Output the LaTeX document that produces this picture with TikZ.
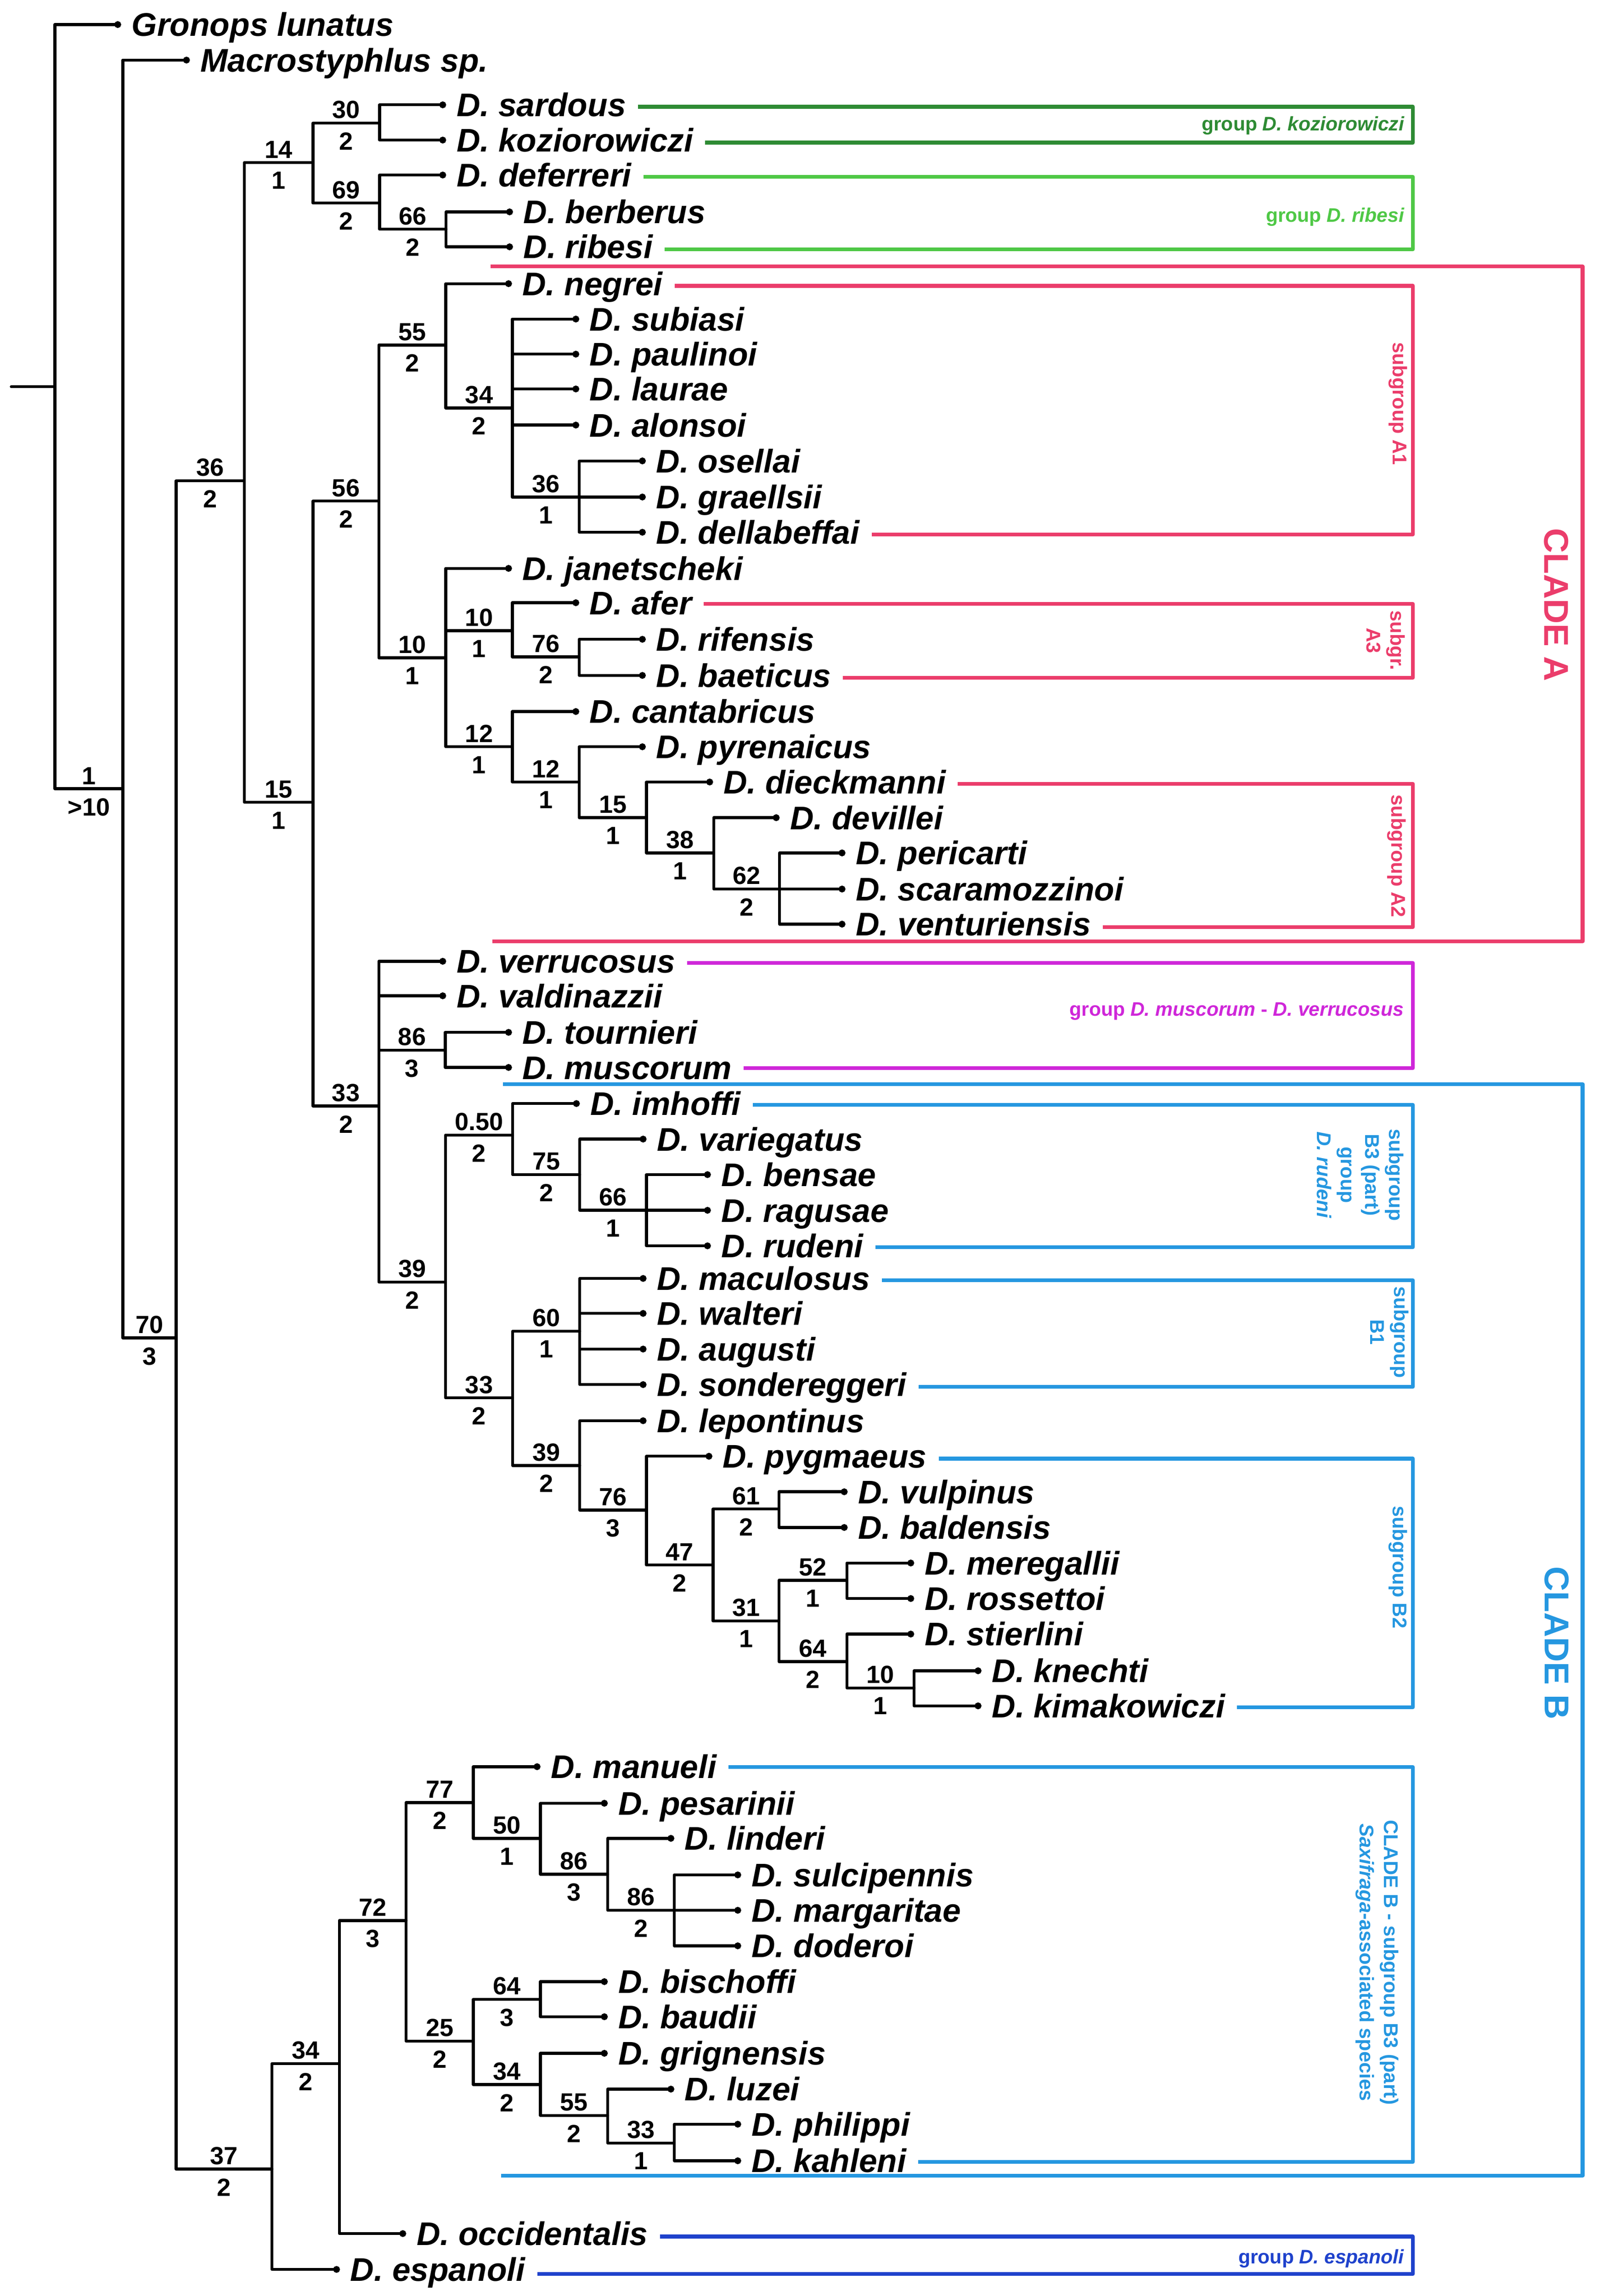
\documentclass[tikz,border=0pt]{standalone}
\usepackage{fontspec}
\setmainfont{Liberation Sans}
\usetikzlibrary{arrows.meta}
\definecolor{kozgreen}{HTML}{2E8B34}
\definecolor{ribgreen}{HTML}{4FC846}
\definecolor{cladea}{HTML}{EB3D6B}
\definecolor{muscmag}{HTML}{CF27D9}
\definecolor{cladeb}{HTML}{2597E0}
\definecolor{espblue}{HTML}{1F42CC}
\begin{document}
\begin{tikzpicture}[x=1pt,y=-1pt,line join=round,line cap=round,
	branch/.style={line width=2pt},
	leafbranch/.style={line width=2pt,-{Circle[length=4.6pt,width=4.6pt]}},
	taxon/.style={anchor=base west,inner sep=0pt,font=\fontsize{22.4}{26}\selectfont\bfseries\itshape},
	supp/.style={inner sep=0pt,font=\fontsize{17}{20}\selectfont\bfseries},
	grpline/.style={line width=2.6pt,line cap=butt},
	grplabel/.style={anchor=east,inner sep=0pt,font=\fontsize{13.4}{16}\selectfont\bfseries},
	sublabel/.style={rotate=-90,inner sep=0pt,align=center,font=\fontsize{13.6}{16.5}\selectfont\bfseries},
	cladelabel/.style={rotate=-90,inner sep=0pt,font=\fontsize{23.5}{28}\selectfont\bfseries}]
	\useasboundingbox (0,0) rectangle (1100,1570.2);
	% terminal taxa: name/tip x/y/label
	\foreach \n/\x/\y/\t in {
		gronops/82.8/16.8/Gronops lunatus, macro/129.8/41.1/Macrostyphlus sp.,
		sardous/305/71.7/D. sardous, koziorowiczi/305/95.8/D. koziorowiczi,
		deferreri/305/119.7/D. deferreri, berberus/350.7/144.9/D. berberus,
		ribesi/350.7/168.8/D. ribesi, negrei/350/194/D. negrei,
		subiasi/396/218.2/D. subiasi, paulinoi/396/242.2/D. paulinoi,
		laurae/396/266/D. laurae, alonsoi/396/290.7/D. alonsoi,
		osellai/441.5/315.2/D. osellai, graellsii/441.5/339.9/D. graellsii,
		dellabeffai/441.5/364/D. dellabeffai, janetscheki/350/388.7/D. janetscheki,
		afer/396/412.2/D. afer, rifensis/441.5/437.2/D. rifensis,
		baeticus/441.5/461.9/D. baeticus, cantabricus/396/486.6/D. cantabricus,
		pyrenaicus/441.5/510.7/D. pyrenaicus, dieckmanni/487.5/534.8/D. dieckmanni,
		devillei/533/559.2/D. devillei, pericarti/578/583.3/D. pericarti,
		scaramozzinoi/578/608/D. scaramozzinoi, venturiensis/578/632/D. venturiensis,
		verrucosus/305/657.4/D. verrucosus, valdinazzii/305/681/D. valdinazzii,
		tournieri/350/706/D. tournieri, muscorum/350/730/D. muscorum,
		imhoffi/396.4/754.7/D. imhoffi, variegatus/442/779/D. variegatus,
		bensae/486/803.3/D. bensae, ragusae/486/827.7/D. ragusae,
		rudeni/486/852/D. rudeni, maculosus/442/874.3/D. maculosus,
		walteri/442/898.2/D. walteri, augusti/442/922.6/D. augusti,
		sondereggeri/442/946.9/D. sondereggeri, lepontinus/442/971.6/D. lepontinus,
		pygmaeus/487/995.9/D. pygmaeus, vulpinus/579.5/1020.2/D. vulpinus,
		baldensis/579.5/1044.6/D. baldensis, meregallii/625/1068.9/D. meregallii,
		rossettoi/625/1093.2/D. rossettoi, stierlini/625/1117.5/D. stierlini,
		knechti/671/1142.6/D. knechti, kimakowiczi/671/1166.6/D. kimakowiczi,
		manueli/369.5/1208.2/D. manueli, pesarinii/415.5/1233.2/D. pesarinii,
		linderi/461/1257.2/D. linderi, sulcipennis/506.7/1282.2/D. sulcipennis,
		margaritae/506.7/1306.4/D. margaritae, doderoi/506.7/1330.7/D. doderoi,
		bischoffi/415.5/1355.2/D. bischoffi, baudii/415.5/1379.2/D. baudii,
		grignensis/415.5/1404.2/D. grignensis, luzei/461/1428.7/D. luzei,
		philippi/506.7/1452.7/D. philippi, kahleni/506.7/1477.7/D. kahleni,
		occidentalis/277.7/1527.5/D. occidentalis, espanoli/232.4/1552/D. espanoli}{
		\coordinate (\n) at (\x,\y);
		\node[taxon] (l\n) at (\x+7,\y+8) {\t};
	}
	% internal nodes
	\foreach \n/\x/\y in {root/37.5/264.5, n1/84/539.4, n70/120.4/915, n36/167/328.8,
		n14/214/111.1, n30/259.5/84.2, n69/259.5/138.9, n66/305/156.8,
		n15/214/548.7, n56/259/342.7, n55/304.8/236, n34a/350.3/279, n36b/396/340,
		n10a/304.8/449.9, n10b/350.3/431.3, n76a/396/449.2, n12a/350.3/510.7,
		n12b/396/534.8, n15b/442/559.2, n38/488/583.3, n62/533/608,
		n33a/259/756.4, n86a/304.4/718.2, n39a/304.6/876.7, n050/350.5/776.2,
		n75/396.4/803.3, n66b/442/827.7, n33b/350.5/956, n60/396.4/910.4,
		n39b/396.4/1002.2, n76b/442/1032.7, n47/487.5/1070.3, n61/532.6/1032,
		n31/532.6/1108.5, n52/579/1080.7, n64a/579/1136.3, n10c/625/1154.4,
		n37/186/1483.4, n34b/232/1411.2, n72/277.7/1313.4, n77/323.6/1232.7,
		n50/369.5/1257.2, n86b/415.5/1281.7, n86c/461/1306.4, n25/323.6/1395.9,
		n64b/369.5/1367.3, n34c/369.5/1425.6, n55b/415.5/1446.7, n33c/461/1465.6}
		\coordinate (\n) at (\x,\y);
	\coordinate (stem) at (7.7,264.5);
	\draw[branch] (stem) -- (root);
	% branches with support values
	\foreach \p/\c/\a/\b in {root/n1/1/{>10}, n1/n70/70/3, n70/n36/36/2, n70/n37/37/2,
		n36/n14/14/1, n36/n15/15/1, n14/n30/30/2, n14/n69/69/2, n69/n66/66/2,
		n15/n56/56/2, n15/n33a/33/2, n56/n55/55/2, n56/n10a/10/1, n55/n34a/34/2,
		n34a/n36b/36/1, n10a/n10b/10/1, n10a/n12a/12/1, n10b/n76a/76/2,
		n12a/n12b/12/1, n12b/n15b/15/1, n15b/n38/38/1, n38/n62/62/2,
		n33a/n86a/86/3, n33a/n39a/39/2, n39a/n050/0.50/2, n39a/n33b/33/2,
		n050/n75/75/2, n75/n66b/66/1, n33b/n60/60/1, n33b/n39b/39/2,
		n39b/n76b/76/3, n76b/n47/47/2, n47/n61/61/2, n47/n31/31/1,
		n31/n52/52/1, n31/n64a/64/2, n64a/n10c/10/1, n37/n34b/34/2,
		n34b/n72/72/3, n72/n77/77/2, n72/n25/25/2, n77/n50/50/1,
		n50/n86b/86/3, n86b/n86c/86/2, n25/n64b/64/3, n25/n34c/34/2,
		n34c/n55b/55/2, n55b/n33c/33/1}
		\draw[branch] (\p) |- node[supp,pos=.75,above=2pt] {\a} node[supp,pos=.75,below=5.5pt] {\b} (\c);
	% terminal branches
	\foreach \p/\c in {root/gronops, n1/macro, n30/sardous, n30/koziorowiczi,
		n69/deferreri, n66/berberus, n66/ribesi, n55/negrei, n34a/subiasi,
		n34a/paulinoi, n34a/laurae, n34a/alonsoi, n36b/osellai, n36b/graellsii,
		n36b/dellabeffai, n10a/janetscheki, n10b/afer, n76a/rifensis, n76a/baeticus,
		n12a/cantabricus, n12b/pyrenaicus, n15b/dieckmanni, n38/devillei,
		n62/pericarti, n62/scaramozzinoi, n62/venturiensis, n33a/verrucosus,
		n33a/valdinazzii, n86a/tournieri, n86a/muscorum, n050/imhoffi,
		n75/variegatus, n66b/bensae, n66b/ragusae, n66b/rudeni, n60/maculosus,
		n60/walteri, n60/augusti, n60/sondereggeri, n39b/lepontinus,
		n76b/pygmaeus, n61/vulpinus, n61/baldensis, n52/meregallii,
		n52/rossettoi, n64a/stierlini, n10c/knechti, n10c/kimakowiczi,
		n77/manueli, n50/pesarinii, n86b/linderi, n86c/sulcipennis,
		n86c/margaritae, n86c/doderoi, n64b/bischoffi, n64b/baudii,
		n34c/grignensis, n55b/luzei, n33c/philippi, n33c/kahleni,
		n34b/occidentalis, n37/espanoli}
		\draw[leafbranch] (\p) |- (\c);
	% group brackets
	\foreach \g/\a/\b/\ya/\yb/\c in {koz/sardous/koziorowiczi/73/97.5/kozgreen,
		rib/deferreri/ribesi/121/170.5/ribgreen,
		aone/negrei/dellabeffai/195.5/365.5/cladea,
		athree/afer/baeticus/413/463.5/cladea,
		atwo/dieckmanni/venturiensis/536/634/cladea,
		musc/verrucosus/muscorum/658.5/730.5/muscmag,
		bthree/imhoffi/rudeni/755.5/853/cladeb,
		bone/maculosus/sondereggeri/875.5/948.5/cladeb,
		btwo/pygmaeus/kimakowiczi/997.5/1167.5/cladeb,
		sax/manueli/kahleni/1208.5/1478.5/cladeb,
		esp/occidentalis/espanoli/1529.5/1555/espblue}{
		\coordinate (t\g) at (966,\ya);
		\coordinate (b\g) at (966,\yb);
		\draw[grpline,\c] ([xshift=8pt]l\a.east |- t\g) -- (t\g) -- (b\g) -- ([xshift=8pt]l\b.east |- b\g);
	}
	\path (335.5,182.2) coordinate (clA1) (1082,182.2) coordinate (clA2)
		(1082,643.8) coordinate (clA3) (336.5,643.8) coordinate (clA4)
		(344,741.4) coordinate (clB1) (1082,741.4) coordinate (clB2)
		(1082,1488) coordinate (clB3) (342.7,1488) coordinate (clB4);
	\draw[grpline,cladea] (clA1) -- (clA2) -- (clA3) -- (clA4);
	\draw[grpline,cladeb] (clB1) -- (clB2) -- (clB3) -- (clB4);
	% group labels
	\node[grplabel,kozgreen] (gkoz) at (960.5,86) {group \textit{D. koziorowiczi}};
	\node[grplabel,ribgreen] (grib) at (960.5,148.5) {group \textit{D. ribesi}};
	\node[grplabel,muscmag] (gmusc) at (960,691.5) {group \textit{D. muscorum} - \textit{D. verrucosus}};
	\node[grplabel,espblue] (gesp) at (960.3,1544.6) {group \textit{D. espanoli}};
	\node[sublabel,cladea] (sA1) at (955.8,276) {subgroup A1};
	\node[sublabel,cladea] (sA3) at (947.5,438) {subgr.\\A3};
	\node[sublabel,cladea] (sA2) at (955,585.5) {subgroup A2};
	\node[sublabel,cladeb] (sBrud) at (930,803.5) {subgroup\\B3 (part)\\group\\\textit{D. rudeni}};
	\node[sublabel,cladeb] (sB1) at (950,911) {subgroup\\B1};
	\node[sublabel,cladeb] (sB2) at (955.7,1071.7) {subgroup B2};
	\node[sublabel,cladeb] (sBsax) at (941.5,1342) {CLADE B - subgroup B3 (part)\\\textit{Saxifraga}-associated species};
	\node[cladelabel,cladea] (cA) at (1064,413.6) {CLADE A};
	\node[cladelabel,cladeb] (cB) at (1064.5,1123.6) {CLADE B};
\end{tikzpicture}
\end{document}
